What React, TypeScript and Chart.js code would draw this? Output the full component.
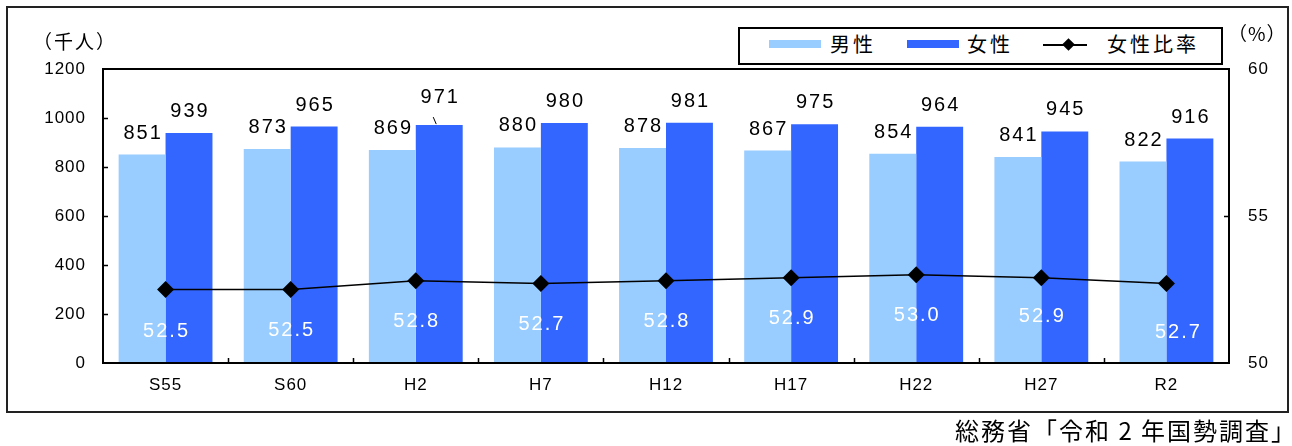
import React, { useEffect, useRef } from "react";
import { Chart, registerables } from "chart.js";

Chart.register(...registerables);

const categories = ["S55", "S60", "H2", "H7", "H12", "H17", "H22", "H27", "R2"];
const maleValues = [851, 873, 869, 880, 878, 867, 854, 841, 822];
const femaleValues = [939, 965, 971, 980, 981, 975, 964, 945, 916];
const femaleRatio = [52.5, 52.5, 52.8, 52.7, 52.8, 52.9, 53.0, 52.9, 52.7];

const legendLabels = ["男性", "女性", "女性比率"];
const leftUnit = "（千人）";
const rightUnit = "（%）";
const sourceText = "総務省「令和 2 年国勢調査」";

const LIGHT = "#99CCFF";
const DARK = "#3366FF";
const NUM_FONT = '"Liberation Sans", Arial, sans-serif';
const JP_FONT = '"Noto Sans CJK JP", sans-serif';

// label placement tweaks (style, not data)
const femaleLabelExtraLift = [0, 0, 6, 0, 0, 0, 0, 0, 0];
const ratioLabelDrop = [47, 46, 46, 46, 46, 46, 46, 44, 54];
const ratioLabelShift = [0, 0, 0, 0, 0, 0, 0, 0, 11];

const spacingPlugin = {
  id: "spacing",
  beforeDraw(chart: any) {
    (chart.ctx as any).letterSpacing = "1px";
  },
};

const decorPlugin = {
  id: "decor",
  afterDatasetsDraw(chart: any) {
    const { ctx, chartArea } = chart;
    const { left, right, top, bottom } = chartArea;
    const y = chart.scales.y;
    const y2 = chart.scales.y2;
    ctx.save();
    // frame
    ctx.strokeStyle = "#000";
    ctx.lineWidth = 2;
    ctx.strokeRect(left, top, right - left, bottom - top);
    // left ticks inward
    ctx.lineWidth = 1.5;
    ctx.beginPath();
    for (let v = 200; v < 1200; v += 200) {
      const py = Math.round(y.getPixelForValue(v)) + 0.5;
      ctx.moveTo(left, py);
      ctx.lineTo(left + 5, py);
    }
    // right tick
    const p55 = Math.round(y2.getPixelForValue(55)) + 0.5;
    ctx.moveTo(right, p55);
    ctx.lineTo(right - 5, p55);
    // x ticks between categories
    const n = categories.length;
    const w = (right - left) / n;
    for (let i = 1; i < n; i++) {
      const px = Math.round(left + i * w) + 0.5;
      ctx.moveTo(px, bottom);
      ctx.lineTo(px, bottom - 5);
    }
    ctx.stroke();

    // value labels
    ctx.font = `20px ${NUM_FONT}`;
    (ctx as any).letterSpacing = "2px";
    ctx.textAlign = "center";
    ctx.textBaseline = "alphabetic";
    ctx.fillStyle = "#000";
    const m0 = chart.getDatasetMeta(1);
    const m1 = chart.getDatasetMeta(2);
    const m2 = chart.getDatasetMeta(0);
    maleValues.forEach((v, i) => {
      const el = m0.data[i];
      ctx.fillText(String(v), el.x + 1, el.y - 16);
    });
    femaleValues.forEach((v, i) => {
      const el = m1.data[i];
      const lift = femaleLabelExtraLift[i];
      ctx.fillText(String(v), el.x + 1, el.y - 16 - lift);
      if (lift > 0) {
        ctx.beginPath();
        ctx.lineWidth = 1;
        ctx.moveTo(el.x - 6, el.y - 8);
        ctx.lineTo(el.x - 3, el.y - 1);
        ctx.stroke();
      }
    });
    ctx.fillStyle = "#fff";
    femaleRatio.forEach((v, i) => {
      const el = m2.data[i];
      ctx.fillText(v.toFixed(1), el.x + 1 + ratioLabelShift[i], el.y + ratioLabelDrop[i]);
    });
    ctx.restore();
  },
};

export default function App() {
  const ref = useRef<HTMLCanvasElement | null>(null);
  useEffect(() => {
    if (!ref.current) return;
    const tickFont = { family: NUM_FONT, size: 17 };
    const chart = new Chart(ref.current, {
      type: "bar",
      data: {
        labels: categories,
        datasets: [
          {
            type: "line",
            label: legendLabels[2],
            data: femaleRatio,
            yAxisID: "y2",
            borderColor: "#000",
            backgroundColor: "#000",
            borderWidth: 1.5,
            pointStyle: "rectRot",
            pointRadius: 8.5,
            pointBackgroundColor: "#000",
            pointBorderColor: "#000",
            pointBorderWidth: 0,
            tension: 0,
            order: 0,
          } as any,
          {
            type: "bar",
            label: legendLabels[0],
            data: maleValues,
            yAxisID: "y",
            backgroundColor: LIGHT,
            borderWidth: 0,
            categoryPercentage: 0.75,
            barPercentage: 1.0,
            order: 1,
          },
          {
            type: "bar",
            label: legendLabels[1],
            data: femaleValues,
            yAxisID: "y",
            backgroundColor: DARK,
            borderWidth: 0,
            categoryPercentage: 0.75,
            barPercentage: 1.0,
            order: 1,
          },
        ],
      },
      options: {
        responsive: false,
        animation: false,
        layout: { padding: { top: 69, left: 0, right: 0, bottom: 0 } },
        plugins: { legend: { display: false }, tooltip: { enabled: false } },
        scales: {
          x: {
            grid: { display: false, drawTicks: false },
            border: { display: false },
            ticks: { color: "#000", font: tickFont, padding: 12 },
            afterFit: (s: any) => {
              s.height = 83;
            },
          },
          y: {
            position: "left",
            min: 0,
            max: 1200,
            grid: { display: false, drawTicks: false },
            border: { display: false },
            ticks: {
              stepSize: 200,
              color: "#000",
              font: tickFont,
              padding: 17,
              callback: (v: any) => String(v),
            },
            afterFit: (s: any) => {
              s.width = 103;
            },
          },
          y2: {
            position: "right",
            min: 50,
            max: 60,
            grid: { display: false, drawTicks: false },
            border: { display: false },
            ticks: {
              stepSize: 5,
              color: "#000",
              font: tickFont,
              padding: 19,
              callback: (v: any) => String(v),
            },
            afterFit: (s: any) => {
              s.width = 63;
            },
          },
        } as any,
      },
      plugins: [spacingPlugin, decorPlugin],
    });
    return () => chart.destroy();
  }, []);

  const jp: React.CSSProperties = {
    position: "absolute",
    fontFamily: JP_FONT,
    fontSize: 20,
    lineHeight: "20px",
    letterSpacing: "3px",
    color: "#000",
    whiteSpace: "nowrap",
  };

  return (
    <div style={{ position: "fixed", left: 0, top: 0, width: 1292, height: 446, background: "#fff", overflow: "hidden" }}>
      <div
        style={{
          position: "absolute",
          left: 6,
          top: 6,
          width: 1283,
          height: 407,
          border: "2px solid #222",
          boxSizing: "border-box",
        }}
      />
      <canvas ref={ref} width={1292} height={446} style={{ position: "absolute", left: 0, top: 0 }} />
      <div style={{ ...jp, left: 33, top: 31, fontSize: 19, letterSpacing: "2px" }}>{leftUnit}</div>
      <div style={{ ...jp, left: 1228, top: 23, fontSize: 19, letterSpacing: "1px" }}>{rightUnit}</div>
      <div
        style={{
          position: "absolute",
          left: 738,
          top: 27,
          width: 485,
          height: 38,
          border: "2px solid #000",
          boxSizing: "border-box",
          background: "#fff",
        }}
      />
      <div style={{ position: "absolute", left: 769, top: 40, width: 52, height: 8, background: LIGHT }} />
      <div style={{ ...jp, left: 830, top: 34 }}>{legendLabels[0]}</div>
      <div style={{ position: "absolute", left: 907, top: 40, width: 52, height: 8, background: DARK }} />
      <div style={{ ...jp, left: 967, top: 34 }}>{legendLabels[1]}</div>
      <div style={{ position: "absolute", left: 1043, top: 44, width: 44, height: 1.5, background: "#000" }} />
      <div
        style={{
          position: "absolute",
          left: 1064,
          top: 40,
          width: 9,
          height: 9,
          background: "#000",
          transform: "rotate(45deg)",
        }}
      />
      <div style={{ ...jp, left: 1107, top: 34 }}>{legendLabels[2]}</div>
      <div style={{ ...jp, left: 955, top: 418, fontSize: 24, lineHeight: "24px", letterSpacing: "2px" }}>{sourceText}</div>
    </div>
  );
}
